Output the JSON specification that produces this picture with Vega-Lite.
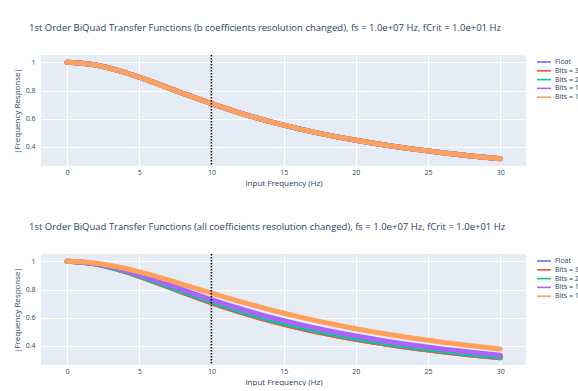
{
  "$schema": "https://vega.github.io/schema/vega-lite/v6.json",
  "background": "white",
  "padding": {"left": 13, "top": 22, "right": 0, "bottom": 0},
  "config": {
    "font": "Open Sans",
    "view": {"fill": "#E5ECF6", "stroke": null},
    "axis": {"domain": false, "ticks": false, "gridColor": "white", "gridWidth": 1, "labelFont": "Open Sans", "labelFontSize": 7, "labelColor": "#2a3f5f", "titleFont": "Open Sans", "titleFontSize": 8, "titleFontWeight": "normal", "titleColor": "#2a3f5f"},
    "legend": {"orient": "right", "offset": 7, "padding": 3, "labelFont": "Open Sans", "labelFontSize": 7, "labelColor": "#2a3f5f", "symbolType": "M-1,0L3.67,0", "symbolStrokeWidth": 1.6, "symbolSize": 36, "rowPadding": 0.8, "labelOffset": 11},
    "title": {"anchor": "start", "frame": "group", "font": "Open Sans", "fontSize": 9.5, "fontWeight": "normal", "color": "#2a3f5f", "offset": 20, "dx": -12}
  },
  "datasets": {
    "top": [
      {"s": "Float", "f": 0, "y": 1}, {"s": "Float", "f": 2, "y": 0.98058}, {"s": "Float", "f": 4, "y": 0.92848}, {"s": "Float", "f": 6, "y": 0.85749}, {"s": "Float", "f": 8, "y": 0.78087}, {"s": "Float", "f": 10, "y": 0.70711}, {"s": "Float", "f": 12, "y": 0.64018}, {"s": "Float", "f": 14, "y": 0.58124}, {"s": "Float", "f": 16, "y": 0.53}, {"s": "Float", "f": 18, "y": 0.48564}, {"s": "Float", "f": 20, "y": 0.44721}, {"s": "Float", "f": 22, "y": 0.4138}, {"s": "Float", "f": 24, "y": 0.38462}, {"s": "Float", "f": 26, "y": 0.35898}, {"s": "Float", "f": 28, "y": 0.33634}, {"s": "Float", "f": 30, "y": 0.31623},
      {"s": "Bits = 32", "f": 0, "y": 1}, {"s": "Bits = 32", "f": 2, "y": 0.98058}, {"s": "Bits = 32", "f": 4, "y": 0.92848}, {"s": "Bits = 32", "f": 6, "y": 0.85749}, {"s": "Bits = 32", "f": 8, "y": 0.78087}, {"s": "Bits = 32", "f": 10, "y": 0.70711}, {"s": "Bits = 32", "f": 12, "y": 0.64018}, {"s": "Bits = 32", "f": 14, "y": 0.58124}, {"s": "Bits = 32", "f": 16, "y": 0.53}, {"s": "Bits = 32", "f": 18, "y": 0.48564}, {"s": "Bits = 32", "f": 20, "y": 0.44721}, {"s": "Bits = 32", "f": 22, "y": 0.4138}, {"s": "Bits = 32", "f": 24, "y": 0.38462}, {"s": "Bits = 32", "f": 26, "y": 0.35898}, {"s": "Bits = 32", "f": 28, "y": 0.33634}, {"s": "Bits = 32", "f": 30, "y": 0.31623},
      {"s": "Bits = 24", "f": 0, "y": 1}, {"s": "Bits = 24", "f": 2, "y": 0.98058}, {"s": "Bits = 24", "f": 4, "y": 0.92848}, {"s": "Bits = 24", "f": 6, "y": 0.85749}, {"s": "Bits = 24", "f": 8, "y": 0.78087}, {"s": "Bits = 24", "f": 10, "y": 0.70711}, {"s": "Bits = 24", "f": 12, "y": 0.64018}, {"s": "Bits = 24", "f": 14, "y": 0.58124}, {"s": "Bits = 24", "f": 16, "y": 0.53}, {"s": "Bits = 24", "f": 18, "y": 0.48564}, {"s": "Bits = 24", "f": 20, "y": 0.44721}, {"s": "Bits = 24", "f": 22, "y": 0.4138}, {"s": "Bits = 24", "f": 24, "y": 0.38462}, {"s": "Bits = 24", "f": 26, "y": 0.35898}, {"s": "Bits = 24", "f": 28, "y": 0.33634}, {"s": "Bits = 24", "f": 30, "y": 0.31623},
      {"s": "Bits = 16", "f": 0, "y": 1}, {"s": "Bits = 16", "f": 2, "y": 0.98058}, {"s": "Bits = 16", "f": 4, "y": 0.92848}, {"s": "Bits = 16", "f": 6, "y": 0.85749}, {"s": "Bits = 16", "f": 8, "y": 0.78087}, {"s": "Bits = 16", "f": 10, "y": 0.70711}, {"s": "Bits = 16", "f": 12, "y": 0.64018}, {"s": "Bits = 16", "f": 14, "y": 0.58124}, {"s": "Bits = 16", "f": 16, "y": 0.53}, {"s": "Bits = 16", "f": 18, "y": 0.48564}, {"s": "Bits = 16", "f": 20, "y": 0.44721}, {"s": "Bits = 16", "f": 22, "y": 0.4138}, {"s": "Bits = 16", "f": 24, "y": 0.38462}, {"s": "Bits = 16", "f": 26, "y": 0.35898}, {"s": "Bits = 16", "f": 28, "y": 0.33634}, {"s": "Bits = 16", "f": 30, "y": 0.31623},
      {"s": "Bits = 12", "f": 0, "y": 1}, {"s": "Bits = 12", "f": 2, "y": 0.98058}, {"s": "Bits = 12", "f": 4, "y": 0.92848}, {"s": "Bits = 12", "f": 6, "y": 0.85749}, {"s": "Bits = 12", "f": 8, "y": 0.78087}, {"s": "Bits = 12", "f": 10, "y": 0.70711}, {"s": "Bits = 12", "f": 12, "y": 0.64018}, {"s": "Bits = 12", "f": 14, "y": 0.58124}, {"s": "Bits = 12", "f": 16, "y": 0.53}, {"s": "Bits = 12", "f": 18, "y": 0.48564}, {"s": "Bits = 12", "f": 20, "y": 0.44721}, {"s": "Bits = 12", "f": 22, "y": 0.4138}, {"s": "Bits = 12", "f": 24, "y": 0.38462}, {"s": "Bits = 12", "f": 26, "y": 0.35898}, {"s": "Bits = 12", "f": 28, "y": 0.33634}, {"s": "Bits = 12", "f": 30, "y": 0.31623}
    ],
    "bot": [
      {"s": "Float", "f": 0, "y": 1}, {"s": "Float", "f": 2, "y": 0.98058}, {"s": "Float", "f": 4, "y": 0.92848}, {"s": "Float", "f": 6, "y": 0.85749}, {"s": "Float", "f": 8, "y": 0.78087}, {"s": "Float", "f": 10, "y": 0.70711}, {"s": "Float", "f": 12, "y": 0.64018}, {"s": "Float", "f": 14, "y": 0.58124}, {"s": "Float", "f": 16, "y": 0.53}, {"s": "Float", "f": 18, "y": 0.48564}, {"s": "Float", "f": 20, "y": 0.44721}, {"s": "Float", "f": 22, "y": 0.4138}, {"s": "Float", "f": 24, "y": 0.38462}, {"s": "Float", "f": 26, "y": 0.35898}, {"s": "Float", "f": 28, "y": 0.33634}, {"s": "Float", "f": 30, "y": 0.31623},
      {"s": "Bits = 32", "f": 0, "y": 1}, {"s": "Bits = 32", "f": 2, "y": 0.98040}, {"s": "Bits = 32", "f": 4, "y": 0.92800}, {"s": "Bits = 32", "f": 6, "y": 0.85680}, {"s": "Bits = 32", "f": 8, "y": 0.78000}, {"s": "Bits = 32", "f": 10, "y": 0.70620}, {"s": "Bits = 32", "f": 12, "y": 0.63930}, {"s": "Bits = 32", "f": 14, "y": 0.58040}, {"s": "Bits = 32", "f": 16, "y": 0.52920}, {"s": "Bits = 32", "f": 18, "y": 0.48490}, {"s": "Bits = 32", "f": 20, "y": 0.44650}, {"s": "Bits = 32", "f": 22, "y": 0.41310}, {"s": "Bits = 32", "f": 24, "y": 0.38390}, {"s": "Bits = 32", "f": 26, "y": 0.35830}, {"s": "Bits = 32", "f": 28, "y": 0.33570}, {"s": "Bits = 32", "f": 30, "y": 0.31560},
      {"s": "Bits = 24", "f": 0, "y": 1}, {"s": "Bits = 24", "f": 2, "y": 0.98131}, {"s": "Bits = 24", "f": 4, "y": 0.93097}, {"s": "Bits = 24", "f": 6, "y": 0.86194}, {"s": "Bits = 24", "f": 8, "y": 0.78686}, {"s": "Bits = 24", "f": 10, "y": 0.71407}, {"s": "Bits = 24", "f": 12, "y": 0.64765}, {"s": "Bits = 24", "f": 14, "y": 0.58886}, {"s": "Bits = 24", "f": 16, "y": 0.53756}, {"s": "Bits = 24", "f": 18, "y": 0.49301}, {"s": "Bits = 24", "f": 20, "y": 0.45433}, {"s": "Bits = 24", "f": 22, "y": 0.42063}, {"s": "Bits = 24", "f": 24, "y": 0.39114}, {"s": "Bits = 24", "f": 26, "y": 0.36521}, {"s": "Bits = 24", "f": 28, "y": 0.34228}, {"s": "Bits = 24", "f": 30, "y": 0.32191},
      {"s": "Bits = 16", "f": 0, "y": 1}, {"s": "Bits = 16", "f": 2, "y": 0.98282}, {"s": "Bits = 16", "f": 4, "y": 0.93615}, {"s": "Bits = 16", "f": 6, "y": 0.87125}, {"s": "Bits = 16", "f": 8, "y": 0.79955}, {"s": "Bits = 16", "f": 10, "y": 0.72900}, {"s": "Bits = 16", "f": 12, "y": 0.66378}, {"s": "Bits = 16", "f": 14, "y": 0.60544}, {"s": "Bits = 16", "f": 16, "y": 0.55410}, {"s": "Bits = 16", "f": 18, "y": 0.50922}, {"s": "Bits = 16", "f": 20, "y": 0.47002}, {"s": "Bits = 16", "f": 22, "y": 0.43572}, {"s": "Bits = 16", "f": 24, "y": 0.40561}, {"s": "Bits = 16", "f": 26, "y": 0.37905}, {"s": "Bits = 16", "f": 28, "y": 0.35551}, {"s": "Bits = 16", "f": 30, "y": 0.33454},
      {"s": "Bits = 12", "f": 0, "y": 1}, {"s": "Bits = 12", "f": 2, "y": 0.98693}, {"s": "Bits = 12", "f": 4, "y": 0.95061}, {"s": "Bits = 12", "f": 6, "y": 0.89806}, {"s": "Bits = 12", "f": 8, "y": 0.83727}, {"s": "Bits = 12", "f": 10, "y": 0.77466}, {"s": "Bits = 12", "f": 12, "y": 0.71435}, {"s": "Bits = 12", "f": 14, "y": 0.65850}, {"s": "Bits = 12", "f": 16, "y": 0.60791}, {"s": "Bits = 12", "f": 18, "y": 0.56263}, {"s": "Bits = 12", "f": 20, "y": 0.52231}, {"s": "Bits = 12", "f": 22, "y": 0.48648}, {"s": "Bits = 12", "f": 24, "y": 0.45462}, {"s": "Bits = 12", "f": 26, "y": 0.42621}, {"s": "Bits = 12", "f": 28, "y": 0.40082}, {"s": "Bits = 12", "f": 30, "y": 0.37803}
    ]
  },
  "resolve": {"legend": {"color": "independent"}},
  "spacing": 34,
  "vconcat": [
    {
      "title": "1st Order BiQuad Transfer Functions (b coefficients resolution changed), fs = 1.0e+07 Hz, fCrit = 1.0e+01 Hz",
      "width": 485,
      "height": 111,
      "layer": [
        {
          "data": {"name": "top"},
          "mark": {"type": "line", "strokeWidth": 5, "interpolate": "monotone", "strokeCap": "round"},
          "encoding": {
            "x": {"field": "f", "type": "quantitative", "scale": {"domain": [-1.8, 31.78], "nice": false, "zero": false}, "axis": {"values": [0, 5, 10, 15, 20, 25, 30], "title": "Input Frequency (Hz)", "labelPadding": 2, "titlePadding": 4}},
            "y": {"field": "y", "type": "quantitative", "scale": {"domain": [0.265, 1.052], "nice": false, "zero": false}, "axis": {"values": [0.4, 0.6, 0.8, 1], "format": "~g", "title": "|Frequency Response|", "labelPadding": 6, "titlePadding": 4}},
            "color": {"field": "s", "type": "nominal", "sort": ["Float", "Bits = 32", "Bits = 24", "Bits = 16", "Bits = 12"], "scale": {"domain": ["Float", "Bits = 32", "Bits = 24", "Bits = 16", "Bits = 12"], "range": ["#636efa", "#EF553B", "#00cc96", "#ab63fa", "#FFA15A"]}, "legend": {"title": null}}
          }
        },
        {
          "data": {"values": [{"fc": 10}]},
          "mark": {"type": "rule", "strokeDash": [1.5, 1.5], "color": "black", "strokeWidth": 1.5},
          "encoding": {"x": {"field": "fc", "type": "quantitative"}}
        }
      ]
    },
    {
      "title": "1st Order BiQuad Transfer Functions (all coefficients resolution changed), fs = 1.0e+07 Hz, fCrit = 1.0e+01 Hz",
      "width": 485,
      "height": 111,
      "layer": [
        {
          "data": {"name": "bot"},
          "mark": {"type": "line", "strokeWidth": 5, "interpolate": "monotone", "strokeCap": "round"},
          "encoding": {
            "x": {"field": "f", "type": "quantitative", "scale": {"domain": [-1.8, 31.78], "nice": false, "zero": false}, "axis": {"values": [0, 5, 10, 15, 20, 25, 30], "title": "Input Frequency (Hz)", "labelPadding": 2, "titlePadding": 4}},
            "y": {"field": "y", "type": "quantitative", "scale": {"domain": [0.265, 1.052], "nice": false, "zero": false}, "axis": {"values": [0.4, 0.6, 0.8, 1], "format": "~g", "title": "|Frequency Response|", "labelPadding": 6, "titlePadding": 4}},
            "color": {"field": "s", "type": "nominal", "sort": ["Float", "Bits = 32", "Bits = 24", "Bits = 16", "Bits = 12"], "scale": {"domain": ["Float", "Bits = 32", "Bits = 24", "Bits = 16", "Bits = 12"], "range": ["#636efa", "#EF553B", "#00cc96", "#ab63fa", "#FFA15A"]}, "legend": {"title": null}}
          }
        },
        {
          "data": {"values": [{"fc": 10}]},
          "mark": {"type": "rule", "strokeDash": [1.5, 1.5], "color": "black", "strokeWidth": 1.5},
          "encoding": {"x": {"field": "fc", "type": "quantitative"}}
        }
      ]
    }
  ]
}
